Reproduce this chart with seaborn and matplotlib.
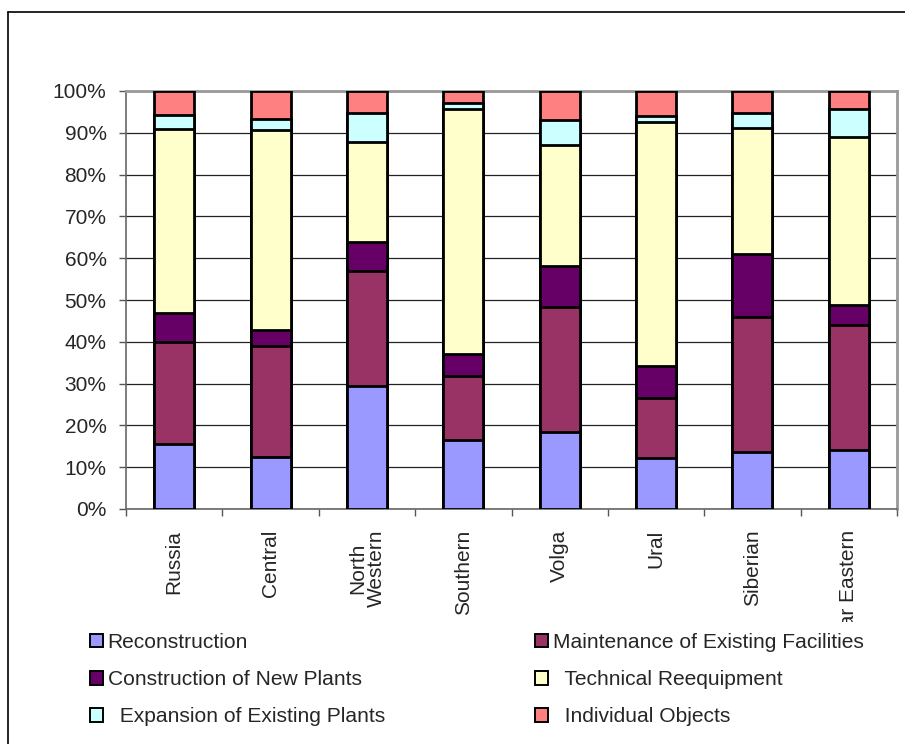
import numpy as np
import pandas as pd
import matplotlib
matplotlib.use("Agg")
import matplotlib.pyplot as plt
from matplotlib.patches import Patch
from matplotlib.lines import Line2D
from matplotlib.transforms import Bbox
from matplotlib.ticker import FixedLocator
import seaborn as sns

# Federal districts (x categories)
regions = ["Russia", "Central", "North\nWestern", "Southern", "Volga",
           "Ural", "Siberian", "Far Eastern"]

# Share of investment by type, % of total
reconstruction = [15.6, 12.4, 29.5, 16.6, 18.4, 12.1, 13.6, 14.2]
maintenance = [24.3, 26.5, 27.5, 15.2, 30.0, 14.4, 32.4, 29.9]
construction = [7.0, 3.9, 6.9, 5.4, 9.8, 7.7, 14.9, 4.6]
reequipment = [43.9, 47.8, 24.0, 58.6, 29.0, 58.5, 30.2, 40.4]
expansion = [3.4, 2.6, 6.9, 1.4, 5.9, 1.2, 3.7, 6.7]
individual = [5.8, 6.8, 5.2, 2.8, 6.9, 6.1, 5.2, 4.2]

series_names = ["Reconstruction", "Maintenance of Existing Facilities",
                "Construction of New Plants", "Technical Reequipment",
                "Expansion of Existing Plants", "Individual Objects"]
series_values = [reconstruction, maintenance, construction, reequipment,
                 expansion, individual]
series_colors = ["#9999FF", "#993366", "#660066", "#FFFFCC", "#CCFFFF", "#FF8080"]

y_ticks = [0, 10, 20, 30, 40, 50, 60, 70, 80, 90, 100]
y_tick_labels = [f"{v}%" for v in y_ticks]

sns.set_style("white")
plt.rcParams["font.family"] = ["Liberation Sans", "DejaVu Sans"]

W, H = 905, 744
fig = plt.figure(figsize=(W / 100, H / 100), dpi=100)
ax = fig.add_axes([126 / W, 1 - 509 / H, 771 / W, 418 / H])

# 100% stacked: normalise each district, then cumulative tops per layer
vals = np.array(series_values, dtype=float)
shares = vals / vals.sum(axis=0) * 100
tops = np.cumsum(shares, axis=0)

df = pd.DataFrame({"region": regions})
# paint from the top layer down so each lower segment covers the one above
for i in range(len(series_names) - 1, -1, -1):
    df["top"] = tops[i]
    sns.barplot(data=df, x="region", y="top", color=series_colors[i],
                saturation=1, width=0.415, edgecolor="black", linewidth=2.0,
                ax=ax, zorder=3 + (len(series_names) - i) * 0.01)

ax.set_xlim(-0.5, len(regions) - 0.5)
ax.set_ylim(0, 100)
ax.set_xlabel("")
ax.set_ylabel("")

ax.set_yticks(y_ticks)
ax.set_yticklabels(y_tick_labels, fontsize=15)
ax.yaxis.grid(True, color="#222222", linewidth=0.9, zorder=0)
ax.set_axisbelow(True)
ax.tick_params(axis="y", length=5, width=1, color="#555555", pad=9, left=True)

ax.set_xticks(range(len(regions)))
ax.set_xticklabels(regions, rotation=90, ha="center", va="top", fontsize=15,
                   linespacing=0.95)
ax.xaxis.set_minor_locator(FixedLocator(np.arange(-0.5, len(regions), 1.0)))
ax.tick_params(axis="x", which="major", length=0, pad=15)
ax.tick_params(axis="x", which="minor", length=5, width=1, color="#555555",
               bottom=True)

# category labels are cut off at the bottom of the label band
clip = Bbox.from_extents(0, H - 622, W, H)
for t in ax.get_xticklabels():
    t.set_clip_box(clip)
    t.set_clip_on(True)

for side in ["left", "bottom"]:
    ax.spines[side].set_color("#666666")
    ax.spines[side].set_linewidth(1.2)
for side in ["top", "right"]:
    ax.spines[side].set_color("#999999")
    ax.spines[side].set_linewidth(2)
    ax.spines[side].set_visible(True)

# legend in two blocks of three entries
def make_handles(idx):
    return [Patch(facecolor=series_colors[i], edgecolor="black", linewidth=1.4)
            for i in idx]

left_idx, right_idx = [0, 2, 4], [1, 3, 5]
left_labels = ["Reconstruction", "Construction of New Plants",
               "  Expansion of Existing Plants"]
right_labels = ["Maintenance of Existing Facilities", "  Technical Reequipment",
                "  Individual Objects"]
legend_kw = dict(loc="upper left", frameon=False, borderpad=0, borderaxespad=0,
                 handlelength=0.62, handleheight=0.62, handletextpad=0.22,
                 labelspacing=0.87, fontsize=15.1, bbox_transform=fig.transFigure)
leg1 = ax.legend(make_handles(left_idx), left_labels,
                 bbox_to_anchor=(90 / W, 1 - 633 / H), **legend_kw)
ax.add_artist(leg1)
ax.legend(make_handles(right_idx), right_labels,
          bbox_to_anchor=(535 / W, 1 - 633 / H), **legend_kw)

# chart frame
fy = 1 - 12 / H
fx = 8 / W
fig.add_artist(Line2D([fx, fx], [0, fy], transform=fig.transFigure,
                      color="black", linewidth=1.2))
fig.add_artist(Line2D([fx, 1], [fy, fy], transform=fig.transFigure,
                      color="black", linewidth=1.2))

fig.savefig("out.png", dpi=100)
